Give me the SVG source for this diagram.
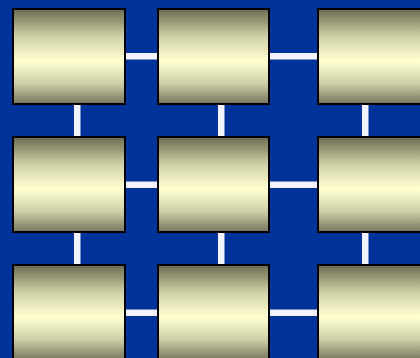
<svg xmlns="http://www.w3.org/2000/svg" width="420" height="358" viewBox="0 0 420 358">
<defs>
<linearGradient id="g" x1="0" y1="0" x2="0" y2="1">
<stop offset="0" stop-color="#6a6a52"/>
<stop offset="0.3" stop-color="#d4d4aa"/>
<stop offset="0.55" stop-color="#ffffd2"/>
<stop offset="0.78" stop-color="#d0d0a8"/>
<stop offset="1" stop-color="#76765c"/>
</linearGradient>
<style>
.n{fill:url(#g);stroke:#000;stroke-width:2}
.c{fill:#f4f4ff}
</style>
</defs>
<rect width="420" height="358" fill="#003399"/>
<g id="connectors">
<rect class="c" x="126" y="53" width="31" height="6.5"/>
<rect class="c" x="270" y="53" width="47" height="6.5"/>
<rect class="c" x="126" y="181.5" width="31" height="6.5"/>
<rect class="c" x="270" y="181.5" width="47" height="6.5"/>
<rect class="c" x="126" y="309.5" width="31" height="6.5"/>
<rect class="c" x="270" y="309.5" width="47" height="6.5"/>
<rect class="c" x="74" y="105" width="6.5" height="31"/>
<rect class="c" x="218" y="105" width="6.5" height="31"/>
<rect class="c" x="362" y="105" width="6.5" height="31"/>
<rect class="c" x="74" y="233" width="6.5" height="31"/>
<rect class="c" x="218" y="233" width="6.5" height="31"/>
<rect class="c" x="362" y="233" width="6.5" height="31"/>
</g>
<g id="n11"><rect class="n" x="13" y="9" width="112" height="95"/></g>
<g id="n12"><rect class="n" x="158" y="9" width="111" height="95"/></g>
<g id="n13"><rect class="n" x="318" y="9" width="112" height="95"/></g>
<g id="n21"><rect class="n" x="13" y="137" width="112" height="95"/></g>
<g id="n22"><rect class="n" x="158" y="137" width="111" height="95"/></g>
<g id="n23"><rect class="n" x="318" y="137" width="112" height="95"/></g>
<g id="n31"><rect class="n" x="13" y="265" width="112" height="95"/></g>
<g id="n32"><rect class="n" x="158" y="265" width="111" height="95"/></g>
<g id="n33"><rect class="n" x="318" y="265" width="112" height="95"/></g>
</svg>
